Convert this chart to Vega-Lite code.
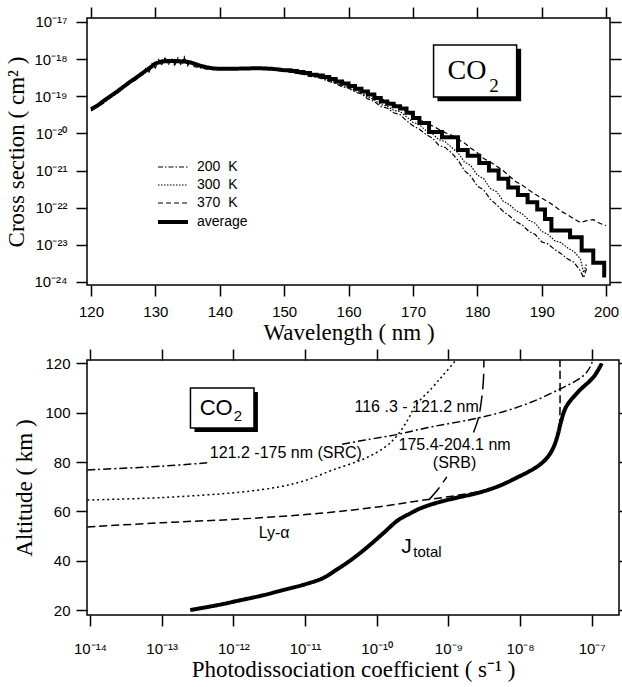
{
  "$schema": "https://vega.github.io/schema/vega-lite/v6.json",
  "background": "white",
  "padding": {"left": 5, "top": 5, "right": 0, "bottom": 0},
  "config": {
    "view": {"stroke": "black", "strokeWidth": 1.5},
    "font": "Liberation Sans",
    "axis": {"domain": false, "grid": false, "tickColor": "black", "tickWidth": 1.5, "tickSize": 11, "labelFont": "Liberation Sans", "labelFontSize": 15, "labelColor": "black", "titleFont": "Liberation Serif", "titleFontSize": 23, "titleFontWeight": "normal", "titleColor": "black"}
  },
  "resolve": {"scale": {"strokeDash": "independent", "strokeWidth": "independent"}, "legend": {"strokeDash": "independent", "strokeWidth": "independent"}},
  "datasets": {
    "temps": [
      {"w":120,"v":4.0e-20,"s":"200 \u00a0K"},{"w":121,"v":5.2e-20,"s":"200 \u00a0K"},{"w":122,"v":6.6e-20,"s":"200 \u00a0K"},{"w":123,"v":9.3e-20,"s":"200 \u00a0K"},{"w":124,"v":1.18e-19,"s":"200 \u00a0K"},{"w":125,"v":1.62e-19,"s":"200 \u00a0K"},{"w":126,"v":2.25e-19,"s":"200 \u00a0K"},{"w":127,"v":2.8e-19,"s":"200 \u00a0K"},{"w":127.5,"v":3.4e-19,"s":"200 \u00a0K"},{"w":128,"v":3.7e-19,"s":"200 \u00a0K"},{"w":128.5,"v":5.2e-19,"s":"200 \u00a0K"},{"w":129,"v":4.4e-19,"s":"200 \u00a0K"},{"w":129.5,"v":7.0e-19,"s":"200 \u00a0K"},{"w":130,"v":5.8e-19,"s":"200 \u00a0K"},{"w":130.5,"v":9.2e-19,"s":"200 \u00a0K"},{"w":131,"v":6.8e-19,"s":"200 \u00a0K"},{"w":131.5,"v":1.05e-18,"s":"200 \u00a0K"},{"w":132,"v":7.0e-19,"s":"200 \u00a0K"},{"w":132.5,"v":9.8e-19,"s":"200 \u00a0K"},{"w":133,"v":6.9e-19,"s":"200 \u00a0K"},{"w":133.5,"v":1.0e-18,"s":"200 \u00a0K"},{"w":134,"v":6.8e-19,"s":"200 \u00a0K"},{"w":134.5,"v":1.05e-18,"s":"200 \u00a0K"},{"w":135,"v":6.6e-19,"s":"200 \u00a0K"},{"w":135.5,"v":8.6e-19,"s":"200 \u00a0K"},{"w":136,"v":6.3e-19,"s":"200 \u00a0K"},{"w":137,"v":5.8e-19,"s":"200 \u00a0K"},{"w":138,"v":5.4e-19,"s":"200 \u00a0K"},{"w":139,"v":5.3e-19,"s":"200 \u00a0K"},{"w":140,"v":5.2e-19,"s":"200 \u00a0K"},{"w":141,"v":5.4e-19,"s":"200 \u00a0K"},{"w":142,"v":5.2e-19,"s":"200 \u00a0K"},{"w":143,"v":5.5e-19,"s":"200 \u00a0K"},{"w":144,"v":5.3e-19,"s":"200 \u00a0K"},{"w":145,"v":5.5e-19,"s":"200 \u00a0K"},{"w":146,"v":5.4e-19,"s":"200 \u00a0K"},{"w":147,"v":5.6e-19,"s":"200 \u00a0K"},{"w":148,"v":5.3e-19,"s":"200 \u00a0K"},{"w":149,"v":5.0e-19,"s":"200 \u00a0K"},{"w":150,"v":4.7e-19,"s":"200 \u00a0K"},{"w":151,"v":4.6e-19,"s":"200 \u00a0K"},{"w":152,"v":4.1e-19,"s":"200 \u00a0K"},{"w":153,"v":3.9e-19,"s":"200 \u00a0K"},{"w":154,"v":3.4e-19,"s":"200 \u00a0K"},{"w":155,"v":3.3e-19,"s":"200 \u00a0K"},{"w":156,"v":2.9e-19,"s":"200 \u00a0K"},{"w":157,"v":2.5e-19,"s":"200 \u00a0K"},{"w":158,"v":2.2e-19,"s":"200 \u00a0K"},{"w":159,"v":1.8e-19,"s":"200 \u00a0K"},{"w":160,"v":1.65e-19,"s":"200 \u00a0K"},{"w":161,"v":1.3e-19,"s":"200 \u00a0K"},{"w":162,"v":1.15e-19,"s":"200 \u00a0K"},{"w":163,"v":8.5e-20,"s":"200 \u00a0K"},{"w":164,"v":7.2e-20,"s":"200 \u00a0K"},{"w":165,"v":5.3e-20,"s":"200 \u00a0K"},{"w":166,"v":4.8e-20,"s":"200 \u00a0K"},{"w":167,"v":3.6e-20,"s":"200 \u00a0K"},{"w":168,"v":3.2e-20,"s":"200 \u00a0K"},{"w":169,"v":2.2e-20,"s":"200 \u00a0K"},{"w":170,"v":1.6e-20,"s":"200 \u00a0K"},{"w":171,"v":1.3e-20,"s":"200 \u00a0K"},{"w":172,"v":9.5e-21,"s":"200 \u00a0K"},{"w":173,"v":7.5e-21,"s":"200 \u00a0K"},{"w":174,"v":4.8e-21,"s":"200 \u00a0K"},{"w":175,"v":4.2e-21,"s":"200 \u00a0K"},{"w":176,"v":3.0e-21,"s":"200 \u00a0K"},{"w":177,"v":1.9e-21,"s":"200 \u00a0K"},{"w":178,"v":1.0e-21,"s":"200 \u00a0K"},{"w":179,"v":7.0e-22,"s":"200 \u00a0K"},{"w":180,"v":3.8e-22,"s":"200 \u00a0K"},{"w":181,"v":3.0e-22,"s":"200 \u00a0K"},{"w":182,"v":1.7e-22,"s":"200 \u00a0K"},{"w":183,"v":1.2e-22,"s":"200 \u00a0K"},{"w":184,"v":8.0e-23,"s":"200 \u00a0K"},{"w":185,"v":6.0e-23,"s":"200 \u00a0K"},{"w":186,"v":4.2e-23,"s":"200 \u00a0K"},{"w":187,"v":3.4e-23,"s":"200 \u00a0K"},{"w":188,"v":2.3e-23,"s":"200 \u00a0K"},{"w":189,"v":1.9e-23,"s":"200 \u00a0K"},{"w":190,"v":1.2e-23,"s":"200 \u00a0K"},{"w":191,"v":1.05e-23,"s":"200 \u00a0K"},{"w":192,"v":7.5e-24,"s":"200 \u00a0K"},{"w":193,"v":5.8e-24,"s":"200 \u00a0K"},{"w":194,"v":4.2e-24,"s":"200 \u00a0K"},{"w":195,"v":3.4e-24,"s":"200 \u00a0K"},{"w":196,"v":2.0e-24,"s":"200 \u00a0K"},{"w":196.5,"v":1.3e-24,"s":"200 \u00a0K"},{"w":197,"v":2.4e-24,"s":"200 \u00a0K"},
      {"w":120,"v":4.3e-20,"s":"300 \u00a0K"},{"w":121,"v":5.5e-20,"s":"300 \u00a0K"},{"w":122,"v":7.2e-20,"s":"300 \u00a0K"},{"w":123,"v":9.6e-20,"s":"300 \u00a0K"},{"w":124,"v":1.26e-19,"s":"300 \u00a0K"},{"w":125,"v":1.7e-19,"s":"300 \u00a0K"},{"w":126,"v":2.3e-19,"s":"300 \u00a0K"},{"w":127,"v":3.0e-19,"s":"300 \u00a0K"},{"w":127.5,"v":3.5e-19,"s":"300 \u00a0K"},{"w":128,"v":4.0e-19,"s":"300 \u00a0K"},{"w":128.5,"v":5.6e-19,"s":"300 \u00a0K"},{"w":129,"v":4.7e-19,"s":"300 \u00a0K"},{"w":129.5,"v":7.6e-19,"s":"300 \u00a0K"},{"w":130,"v":6.4e-19,"s":"300 \u00a0K"},{"w":130.5,"v":9.8e-19,"s":"300 \u00a0K"},{"w":131,"v":7.3e-19,"s":"300 \u00a0K"},{"w":131.5,"v":1.1e-18,"s":"300 \u00a0K"},{"w":132,"v":7.6e-19,"s":"300 \u00a0K"},{"w":132.5,"v":1.05e-18,"s":"300 \u00a0K"},{"w":133,"v":7.4e-19,"s":"300 \u00a0K"},{"w":133.5,"v":1.08e-18,"s":"300 \u00a0K"},{"w":134,"v":7.4e-19,"s":"300 \u00a0K"},{"w":134.5,"v":1.15e-18,"s":"300 \u00a0K"},{"w":135,"v":7.1e-19,"s":"300 \u00a0K"},{"w":135.5,"v":9.2e-19,"s":"300 \u00a0K"},{"w":136,"v":6.7e-19,"s":"300 \u00a0K"},{"w":137,"v":6.1e-19,"s":"300 \u00a0K"},{"w":138,"v":5.7e-19,"s":"300 \u00a0K"},{"w":139,"v":5.5e-19,"s":"300 \u00a0K"},{"w":140,"v":5.4e-19,"s":"300 \u00a0K"},{"w":141,"v":5.5e-19,"s":"300 \u00a0K"},{"w":142,"v":5.4e-19,"s":"300 \u00a0K"},{"w":143,"v":5.6e-19,"s":"300 \u00a0K"},{"w":144,"v":5.5e-19,"s":"300 \u00a0K"},{"w":145,"v":5.7e-19,"s":"300 \u00a0K"},{"w":146,"v":5.6e-19,"s":"300 \u00a0K"},{"w":147,"v":5.8e-19,"s":"300 \u00a0K"},{"w":148,"v":5.5e-19,"s":"300 \u00a0K"},{"w":149,"v":5.2e-19,"s":"300 \u00a0K"},{"w":150,"v":4.9e-19,"s":"300 \u00a0K"},{"w":151,"v":4.7e-19,"s":"300 \u00a0K"},{"w":152,"v":4.3e-19,"s":"300 \u00a0K"},{"w":153,"v":4.1e-19,"s":"300 \u00a0K"},{"w":154,"v":3.6e-19,"s":"300 \u00a0K"},{"w":155,"v":3.5e-19,"s":"300 \u00a0K"},{"w":156,"v":3.1e-19,"s":"300 \u00a0K"},{"w":157,"v":2.6e-19,"s":"300 \u00a0K"},{"w":158,"v":2.4e-19,"s":"300 \u00a0K"},{"w":159,"v":1.95e-19,"s":"300 \u00a0K"},{"w":160,"v":1.8e-19,"s":"300 \u00a0K"},{"w":161,"v":1.42e-19,"s":"300 \u00a0K"},{"w":162,"v":1.25e-19,"s":"300 \u00a0K"},{"w":163,"v":9.6e-20,"s":"300 \u00a0K"},{"w":164,"v":8.0e-20,"s":"300 \u00a0K"},{"w":165,"v":6.0e-20,"s":"300 \u00a0K"},{"w":166,"v":5.4e-20,"s":"300 \u00a0K"},{"w":167,"v":4.2e-20,"s":"300 \u00a0K"},{"w":168,"v":3.9e-20,"s":"300 \u00a0K"},{"w":169,"v":2.8e-20,"s":"300 \u00a0K"},{"w":170,"v":2.0e-20,"s":"300 \u00a0K"},{"w":171,"v":1.7e-20,"s":"300 \u00a0K"},{"w":172,"v":1.2e-20,"s":"300 \u00a0K"},{"w":173,"v":1.0e-20,"s":"300 \u00a0K"},{"w":174,"v":6.8e-21,"s":"300 \u00a0K"},{"w":175,"v":6.0e-21,"s":"300 \u00a0K"},{"w":176,"v":4.2e-21,"s":"300 \u00a0K"},{"w":177,"v":3.0e-21,"s":"300 \u00a0K"},{"w":178,"v":1.7e-21,"s":"300 \u00a0K"},{"w":179,"v":1.35e-21,"s":"300 \u00a0K"},{"w":180,"v":7.5e-22,"s":"300 \u00a0K"},{"w":181,"v":6.0e-22,"s":"300 \u00a0K"},{"w":182,"v":3.3e-22,"s":"300 \u00a0K"},{"w":183,"v":2.7e-22,"s":"300 \u00a0K"},{"w":184,"v":1.5e-22,"s":"300 \u00a0K"},{"w":185,"v":1.2e-22,"s":"300 \u00a0K"},{"w":186,"v":8.3e-23,"s":"300 \u00a0K"},{"w":187,"v":6.8e-23,"s":"300 \u00a0K"},{"w":188,"v":4.6e-23,"s":"300 \u00a0K"},{"w":189,"v":3.8e-23,"s":"300 \u00a0K"},{"w":190,"v":2.3e-23,"s":"300 \u00a0K"},{"w":191,"v":1.9e-23,"s":"300 \u00a0K"},{"w":192,"v":1.3e-23,"s":"300 \u00a0K"},{"w":193,"v":1.15e-23,"s":"300 \u00a0K"},{"w":194,"v":8.3e-24,"s":"300 \u00a0K"},{"w":195,"v":6.6e-24,"s":"300 \u00a0K"},{"w":196,"v":4.2e-24,"s":"300 \u00a0K"},{"w":196.5,"v":1.8e-24,"s":"300 \u00a0K"},{"w":197,"v":3.2e-24,"s":"300 \u00a0K"},
      {"w":120,"v":4.7e-20,"s":"370 \u00a0K"},{"w":121,"v":5.8e-20,"s":"370 \u00a0K"},{"w":122,"v":7.8e-20,"s":"370 \u00a0K"},{"w":123,"v":1.02e-19,"s":"370 \u00a0K"},{"w":124,"v":1.35e-19,"s":"370 \u00a0K"},{"w":125,"v":1.82e-19,"s":"370 \u00a0K"},{"w":126,"v":2.45e-19,"s":"370 \u00a0K"},{"w":127,"v":3.2e-19,"s":"370 \u00a0K"},{"w":127.5,"v":3.7e-19,"s":"370 \u00a0K"},{"w":128,"v":4.3e-19,"s":"370 \u00a0K"},{"w":128.5,"v":5.4e-19,"s":"370 \u00a0K"},{"w":129,"v":5.2e-19,"s":"370 \u00a0K"},{"w":129.5,"v":7.0e-19,"s":"370 \u00a0K"},{"w":130,"v":7.0e-19,"s":"370 \u00a0K"},{"w":130.5,"v":8.6e-19,"s":"370 \u00a0K"},{"w":131,"v":8.0e-19,"s":"370 \u00a0K"},{"w":131.5,"v":9.4e-19,"s":"370 \u00a0K"},{"w":132,"v":8.2e-19,"s":"370 \u00a0K"},{"w":132.5,"v":9.2e-19,"s":"370 \u00a0K"},{"w":133,"v":8.1e-19,"s":"370 \u00a0K"},{"w":133.5,"v":9.4e-19,"s":"370 \u00a0K"},{"w":134,"v":8.0e-19,"s":"370 \u00a0K"},{"w":134.5,"v":9.8e-19,"s":"370 \u00a0K"},{"w":135,"v":7.8e-19,"s":"370 \u00a0K"},{"w":135.5,"v":8.6e-19,"s":"370 \u00a0K"},{"w":136,"v":7.2e-19,"s":"370 \u00a0K"},{"w":137,"v":6.5e-19,"s":"370 \u00a0K"},{"w":138,"v":6.0e-19,"s":"370 \u00a0K"},{"w":139,"v":5.7e-19,"s":"370 \u00a0K"},{"w":140,"v":5.6e-19,"s":"370 \u00a0K"},{"w":141,"v":5.7e-19,"s":"370 \u00a0K"},{"w":142,"v":5.6e-19,"s":"370 \u00a0K"},{"w":143,"v":5.8e-19,"s":"370 \u00a0K"},{"w":144,"v":5.7e-19,"s":"370 \u00a0K"},{"w":145,"v":5.9e-19,"s":"370 \u00a0K"},{"w":146,"v":5.8e-19,"s":"370 \u00a0K"},{"w":147,"v":6.0e-19,"s":"370 \u00a0K"},{"w":148,"v":5.7e-19,"s":"370 \u00a0K"},{"w":149,"v":5.5e-19,"s":"370 \u00a0K"},{"w":150,"v":5.2e-19,"s":"370 \u00a0K"},{"w":151,"v":5.1e-19,"s":"370 \u00a0K"},{"w":152,"v":4.7e-19,"s":"370 \u00a0K"},{"w":153,"v":4.5e-19,"s":"370 \u00a0K"},{"w":154,"v":4.0e-19,"s":"370 \u00a0K"},{"w":155,"v":3.9e-19,"s":"370 \u00a0K"},{"w":156,"v":3.6e-19,"s":"370 \u00a0K"},{"w":157,"v":3.1e-19,"s":"370 \u00a0K"},{"w":158,"v":2.8e-19,"s":"370 \u00a0K"},{"w":159,"v":2.4e-19,"s":"370 \u00a0K"},{"w":160,"v":2.1e-19,"s":"370 \u00a0K"},{"w":161,"v":1.8e-19,"s":"370 \u00a0K"},{"w":162,"v":1.55e-19,"s":"370 \u00a0K"},{"w":163,"v":1.3e-19,"s":"370 \u00a0K"},{"w":164,"v":1.05e-19,"s":"370 \u00a0K"},{"w":165,"v":8.7e-20,"s":"370 \u00a0K"},{"w":166,"v":7.4e-20,"s":"370 \u00a0K"},{"w":167,"v":6.2e-20,"s":"370 \u00a0K"},{"w":168,"v":5.0e-20,"s":"370 \u00a0K"},{"w":169,"v":4.0e-20,"s":"370 \u00a0K"},{"w":170,"v":2.9e-20,"s":"370 \u00a0K"},{"w":171,"v":2.4e-20,"s":"370 \u00a0K"},{"w":172,"v":1.9e-20,"s":"370 \u00a0K"},{"w":173,"v":1.6e-20,"s":"370 \u00a0K"},{"w":174,"v":1.3e-20,"s":"370 \u00a0K"},{"w":175,"v":1.05e-20,"s":"370 \u00a0K"},{"w":176,"v":8.9e-21,"s":"370 \u00a0K"},{"w":177,"v":7.0e-21,"s":"370 \u00a0K"},{"w":178,"v":5.5e-21,"s":"370 \u00a0K"},{"w":179,"v":4.0e-21,"s":"370 \u00a0K"},{"w":180,"v":3.0e-21,"s":"370 \u00a0K"},{"w":181,"v":2.1e-21,"s":"370 \u00a0K"},{"w":182,"v":1.7e-21,"s":"370 \u00a0K"},{"w":183,"v":1.3e-21,"s":"370 \u00a0K"},{"w":184,"v":1.0e-21,"s":"370 \u00a0K"},{"w":185,"v":7.0e-22,"s":"370 \u00a0K"},{"w":186,"v":5.0e-22,"s":"370 \u00a0K"},{"w":187,"v":4.0e-22,"s":"370 \u00a0K"},{"w":188,"v":3.0e-22,"s":"370 \u00a0K"},{"w":189,"v":2.3e-22,"s":"370 \u00a0K"},{"w":190,"v":1.8e-22,"s":"370 \u00a0K"},{"w":191,"v":1.45e-22,"s":"370 \u00a0K"},{"w":192,"v":1.1e-22,"s":"370 \u00a0K"},{"w":193,"v":8.0e-23,"s":"370 \u00a0K"},{"w":194,"v":6.5e-23,"s":"370 \u00a0K"},{"w":195,"v":5.0e-23,"s":"370 \u00a0K"},{"w":196,"v":4.0e-23,"s":"370 \u00a0K"},{"w":197,"v":4.5e-23,"s":"370 \u00a0K"},{"w":198,"v":4.8e-23,"s":"370 \u00a0K"},{"w":199,"v":3.8e-23,"s":"370 \u00a0K"},{"w":200,"v":3.3e-23,"s":"370 \u00a0K"},
      {"w":120,"v":4.5e-20,"s":"average"},{"w":121,"v":5.6e-20,"s":"average"},{"w":122,"v":7.6e-20,"s":"average"},{"w":123,"v":1.0e-19,"s":"average"},{"w":124,"v":1.32e-19,"s":"average"},{"w":125,"v":1.78e-19,"s":"average"},{"w":126,"v":2.4e-19,"s":"average"},{"w":127,"v":3.16e-19,"s":"average"},{"w":128,"v":4.2e-19,"s":"average"},{"w":129,"v":5.6e-19,"s":"average"},{"w":130,"v":7.6e-19,"s":"average"},{"w":131,"v":8.7e-19,"s":"average"},{"w":132,"v":8.9e-19,"s":"average"},{"w":133,"v":8.9e-19,"s":"average"},{"w":134,"v":8.7e-19,"s":"average"},{"w":135,"v":8.5e-19,"s":"average"},{"w":136,"v":7.6e-19,"s":"average"},{"w":137,"v":6.6e-19,"s":"average"},{"w":138,"v":6.0e-19,"s":"average"},{"w":139,"v":5.6e-19,"s":"average"},{"w":140,"v":5.5e-19,"s":"average"},{"w":142,"v":5.5e-19,"s":"average"},{"w":144,"v":5.6e-19,"s":"average"},{"w":146,"v":5.7e-19,"s":"average"},{"w":148,"v":5.5e-19,"s":"average"},{"w":149,"v":5.3e-19,"s":"average"},{"w":150,"v":5.0e-19,"s":"average"}
    ],
    "avgstep": [
      {"w":150,"v":5.0e-19},{"w":151,"v":4.8e-19},{"w":152,"v":4.5e-19},{"w":153,"v":4.2e-19},{"w":154,"v":3.8e-19},{"w":155,"v":3.6e-19},{"w":156,"v":3.3e-19},{"w":157,"v":2.9e-19},{"w":158,"v":2.5e-19},{"w":159,"v":2.2e-19},{"w":160,"v":1.9e-19},{"w":161,"v":1.6e-19},{"w":162,"v":1.35e-19},{"w":163,"v":1.12e-19},{"w":164,"v":9.0e-20},{"w":165,"v":7.2e-20},{"w":166,"v":6.3e-20},{"w":167,"v":5.4e-20},{"w":168,"v":4.7e-20},{"w":169,"v":3.6e-20},{"w":170,"v":2.6e-20},{"w":171,"v":1.9e-20},{"w":172.5,"v":1.1e-20},{"w":174.5,"v":7.9e-21},{"w":177,"v":3.6e-21},{"w":178.5,"v":2.5e-21},{"w":180.3,"v":1.6e-21},{"w":181.8,"v":1.0e-21},{"w":183.3,"v":6.0e-22},{"w":184.8,"v":3.5e-22},{"w":186.3,"v":2.2e-22},{"w":187.8,"v":1.4e-22},{"w":189.3,"v":8.9e-23},{"w":190.5,"v":5.0e-23},{"w":191.5,"v":2.45e-23},{"w":194.4,"v":1.6e-23},{"w":196.2,"v":7.1e-24},{"w":198,"v":3.3e-24},{"w":199.7,"v":1.5e-24},{"w":200,"v":1.5e-24}
    ],
    "bot": [
      {"s":"J","g":"a","x":2.5e-13,"a":20},{"s":"J","g":"a","x":6e-13,"a":22},{"s":"J","g":"a","x":1.26e-12,"a":24},{"s":"J","g":"a","x":2.6e-12,"a":26},{"s":"J","g":"a","x":4.5e-12,"a":27.8},{"s":"J","g":"a","x":1.1e-11,"a":30.8},{"s":"J","g":"a","x":1.8e-11,"a":33},{"s":"J","g":"a","x":2.7e-11,"a":36.2},{"s":"J","g":"a","x":4.0e-11,"a":39.5},{"s":"J","g":"a","x":5.8e-11,"a":43},{"s":"J","g":"a","x":8.5e-11,"a":47},{"s":"J","g":"a","x":1.23e-10,"a":51.1},{"s":"J","g":"a","x":2.0e-10,"a":56.5},{"s":"J","g":"a","x":3.0e-10,"a":59.3},{"s":"J","g":"a","x":3.9e-10,"a":61},{"s":"J","g":"a","x":5.5e-10,"a":62.6},{"s":"J","g":"a","x":8.0e-10,"a":64},{"s":"J","g":"a","x":1.3e-9,"a":65.5},{"s":"J","g":"a","x":2.6e-9,"a":67.5},{"s":"J","g":"a","x":5.0e-9,"a":70.2},{"s":"J","g":"a","x":9.5e-9,"a":74},{"s":"J","g":"a","x":1.5e-8,"a":77},{"s":"J","g":"a","x":2.0e-8,"a":79.5},{"s":"J","g":"a","x":2.5e-8,"a":82.5},{"s":"J","g":"a","x":2.95e-8,"a":86.2},{"s":"J","g":"a","x":3.4e-8,"a":91.6},{"s":"J","g":"a","x":3.7e-8,"a":96},{"s":"J","g":"a","x":4.4e-8,"a":102.4},{"s":"J","g":"a","x":6.5e-8,"a":108.5},{"s":"J","g":"a","x":1.07e-7,"a":114.6},{"s":"J","g":"a","x":1.38e-7,"a":120},
      {"s":"Lya","g":"a","x":9.2e-15,"a":53.7},{"s":"Lya","g":"a","x":1e-13,"a":55.4},{"s":"Lya","g":"a","x":1.26e-12,"a":56.9},{"s":"Lya","g":"a","x":1.6e-11,"a":59.2},{"s":"Lya","g":"a","x":1.1e-10,"a":61.9},{"s":"Lya","g":"a","x":3.9e-10,"a":64.3},{"s":"Lya","g":"a","x":1.4e-9,"a":66.6},{"s":"Lya","g":"a","x":5.0e-9,"a":70},{"s":"Lya","g":"a","x":9.5e-9,"a":74},{"s":"Lya","g":"a","x":2.0e-8,"a":79.5},{"s":"Lya","g":"a","x":2.95e-8,"a":86.2},{"s":"Lya","g":"a","x":3.5e-8,"a":93},{"s":"Lya","g":"a","x":3.6e-8,"a":100},{"s":"Lya","g":"a","x":3.6e-8,"a":121.3},
      {"s":"dot","g":"a","x":9.2e-15,"a":64.6},{"s":"dot","g":"a","x":1e-13,"a":65.6},{"s":"dot","g":"a","x":1.26e-12,"a":67.8},{"s":"dot","g":"a","x":4.5e-12,"a":70},{"s":"dot","g":"a","x":1.0e-11,"a":72.5},{"s":"dot","g":"a","x":2.4e-11,"a":76.7},{"s":"dot","g":"a","x":6.9e-11,"a":81.5},{"s":"dot","g":"a","x":1.3e-10,"a":86},{"s":"dot","g":"a","x":1.9e-10,"a":90.5},{"s":"dot","g":"a","x":2.7e-10,"a":97},{"s":"dot","g":"a","x":3.5e-10,"a":103},{"s":"dot","g":"a","x":5.9e-10,"a":110},{"s":"dot","g":"a","x":8.3e-10,"a":115},{"s":"dot","g":"a","x":1.17e-9,"a":120},{"s":"dot","g":"a","x":1.25e-9,"a":121.3},
      {"s":"src","g":"a","x":9.2e-15,"a":76.8},{"s":"src","g":"a","x":1e-13,"a":78.3},{"s":"src","g":"a","x":4.5e-13,"a":79.7},
      {"s":"src","g":"b","x":3.3e-11,"a":87.2},{"s":"src","g":"b","x":6.9e-11,"a":88.9},{"s":"src","g":"b","x":1.82e-10,"a":91},{"s":"src","g":"b","x":5.9e-10,"a":94.3},{"s":"src","g":"b","x":2.14e-9,"a":97.3},{"s":"src","g":"b","x":6.0e-9,"a":100.5},{"s":"src","g":"b","x":1.48e-8,"a":104.4},{"s":"src","g":"b","x":3.4e-8,"a":109.2},{"s":"src","g":"b","x":6.5e-8,"a":113.5},{"s":"src","g":"b","x":8.3e-8,"a":116},{"s":"src","g":"b","x":9.5e-8,"a":118.5},{"s":"src","g":"b","x":1.0e-7,"a":120},{"s":"src","g":"b","x":1.02e-7,"a":121.3},
      {"s":"srb","g":"a","x":5.4e-10,"a":64.8},{"s":"srb","g":"a","x":7.4e-10,"a":69.5},{"s":"srb","g":"a","x":9.5e-10,"a":74},
      {"s":"srb","g":"b","x":2.24e-9,"a":92},{"s":"srb","g":"b","x":2.63e-9,"a":98},{"s":"srb","g":"b","x":2.95e-9,"a":107},{"s":"srb","g":"b","x":3.09e-9,"a":114},{"s":"srb","g":"b","x":3.13e-9,"a":121.3}
    ]
  },
  "concat": [
    {
      "width": 523,
      "height": 267,
      "layer": [
        {
          "data": {"name": "temps"},
          "mark": {"type": "line", "color": "black", "strokeCap": "butt"},
          "encoding": {
            "x": {"field": "w", "type": "quantitative", "scale": {"domain": [119.38, 200.6], "nice": false, "zero": false},
                  "axis": {"orient": "bottom", "values": [120,130,140,150,160,170,180,190,200], "format": "d", "labelPadding": 8, "title": "Wavelength ( nm )", "titlePadding": 2}},
            "y": {"field": "v", "type": "quantitative", "scale": {"type": "log", "domain": [8.3e-25, 1.28e-17], "nice": false},
                  "axis": {"orient": "left", "values": [1e-24,1e-23,1e-22,1e-21,1e-20,1e-19,1e-18,1e-17], "labelPadding": 9, "title": "Cross section ( cm\u00b2 )", "titlePadding": 5,
                           "labelExpr": "'10' + replace(replace(replace(replace(replace(replace(replace(replace(replace(replace(replace('' + round(log(datum.value)/LN10), '-', '\u207b'), regexp('0','g'), '\u2070'), regexp('1','g'), '\u00b9'), regexp('2','g'), '\u00b2'), regexp('3','g'), '\u00b3'), regexp('4','g'), '\u2074'), regexp('5','g'), '\u2075'), regexp('6','g'), '\u2076'), regexp('7','g'), '\u2077'), regexp('8','g'), '\u2078'), regexp('9','g'), '\u2079')"}},
            "strokeDash": {"field": "s", "type": "nominal",
                  "scale": {"domain": ["200 \u00a0K","300 \u00a0K","370 \u00a0K","average"], "range": [[5,2,1.5,2],[1.5,1.5],[5,3],[1,0]]},
                  "legend": {"orient": "none", "legendX": 79, "legendY": 142, "title": null, "symbolType": "M-3,0H3", "symbolSize": 100, "symbolStrokeColor": "black", "symbolFillColor": "transparent", "labelFont": "Liberation Sans", "labelFontSize": 14, "labelColor": "black", "labelOffset": 17, "rowPadding": 4, "padding": 0}},
            "strokeWidth": {"field": "s", "type": "ordinal",
                  "scale": {"type": "ordinal", "domain": ["200 \u00a0K","300 \u00a0K","370 \u00a0K","average"], "range": [1.2,1.2,1.2,4]},
                  "legend": {"orient": "none", "legendX": 79, "legendY": 142, "title": null, "symbolType": "M-3,0H3", "symbolSize": 100, "symbolStrokeColor": "black", "symbolFillColor": "transparent", "labelFont": "Liberation Sans", "labelFontSize": 14, "labelColor": "black", "labelOffset": 17, "rowPadding": 4, "padding": 0}}
          }
        },
        {
          "data": {"name": "avgstep"},
          "mark": {"type": "line", "color": "black", "strokeWidth": 4, "interpolate": "step-after"},
          "encoding": {
            "x": {"field": "w", "type": "quantitative", "axis": {"orient": "top", "labels": false, "title": null, "values": [120,130,140,150,160,170,180,190,200]}},
            "y": {"field": "v", "type": "quantitative", "axis": {"orient": "right", "labels": false, "title": null, "values": [1e-24,1e-23,1e-22,1e-21,1e-20,1e-19,1e-18,1e-17]}}
          }
        },
        {
          "data": {"values": [{"x1": 173.8, "x2": 186.8, "y1": 1.9e-18, "y2": 7.4e-20}]},
          "mark": {"type": "rect", "color": "black"},
          "encoding": {
            "x": {"field": "x1", "type": "quantitative", "axis": null}, "x2": {"field": "x2"},
            "y": {"field": "y1", "type": "quantitative", "axis": null}, "y2": {"field": "y2"}
          }
        },
        {
          "data": {"values": [{"x1": 173.2, "x2": 186.1, "y1": 2.4e-18, "y2": 9.5e-20}]},
          "mark": {"type": "rect", "fill": "white", "stroke": "black", "strokeWidth": 1.5},
          "encoding": {
            "x": {"field": "x1", "type": "quantitative", "axis": null}, "x2": {"field": "x2"},
            "y": {"field": "y1", "type": "quantitative", "axis": null}, "y2": {"field": "y2"}
          }
        },
        {
          "data": {"values": [{"x": 178.4, "y": 4.8e-19, "t": "CO"}]},
          "mark": {"type": "text", "font": "Liberation Serif", "fontSize": 28, "color": "black", "align": "center", "baseline": "middle"},
          "encoding": {"x": {"field": "x", "type": "quantitative", "axis": null}, "y": {"field": "y", "type": "quantitative", "axis": null}, "text": {"field": "t"}}
        },
        {
          "data": {"values": [{"x": 182.6, "y": 1.9e-19, "t": "2"}]},
          "mark": {"type": "text", "font": "Liberation Serif", "fontSize": 19, "color": "black", "align": "center", "baseline": "middle"},
          "encoding": {"x": {"field": "x", "type": "quantitative", "axis": null}, "y": {"field": "y", "type": "quantitative", "axis": null}, "text": {"field": "t"}}
        }
      ]
    },
    {
      "width": 532,
      "height": 255,
      "layer": [
        {
          "data": {"name": "bot"},
          "mark": {"type": "line", "color": "black", "strokeCap": "butt", "interpolate": "catmull-rom"},
          "encoding": {
            "x": {"field": "x", "type": "quantitative", "scale": {"type": "log", "domain": [9.08e-15, 2.4e-7], "nice": false},
                  "axis": {"orient": "bottom", "values": [1e-14,1e-13,1e-12,1e-11,1e-10,1e-9,1e-8,1e-7], "labelPadding": 15, "title": "Photodissociation coefficient ( s\u207b\u00b9 )", "titlePadding": 2,
                           "labelExpr": "'10' + replace(replace(replace(replace(replace(replace(replace(replace(replace(replace(replace('' + round(log(datum.value)/LN10), '-', '\u207b'), regexp('0','g'), '\u2070'), regexp('1','g'), '\u00b9'), regexp('2','g'), '\u00b2'), regexp('3','g'), '\u00b3'), regexp('4','g'), '\u2074'), regexp('5','g'), '\u2075'), regexp('6','g'), '\u2076'), regexp('7','g'), '\u2077'), regexp('8','g'), '\u2078'), regexp('9','g'), '\u2079')"}},
            "y": {"field": "a", "type": "quantitative", "scale": {"domain": [18.0, 121.34], "nice": false, "zero": false},
                  "axis": {"orient": "left", "values": [20,40,60,80,100,120], "labelPadding": 6, "title": "Altitude ( km )", "titlePadding": 8}},
            "detail": {"field": "g"},
            "order": {"value": null},
            "strokeDash": {"field": "s", "type": "nominal", "legend": null,
                  "scale": {"domain": ["J","Lya","dot","src","srb"], "range": [[1,0],[8,4],[2,3],[8,3,2,3],[16,6]]}},
            "strokeWidth": {"field": "s", "type": "ordinal", "legend": null,
                  "scale": {"type": "ordinal", "domain": ["J","Lya","dot","src","srb"], "range": [4,1.5,1.5,1.5,1.5]}}
          }
        },
        {
          "data": {"values": [{"x1": 2.87e-13, "x2": 2.2e-12, "y1": 108.4, "y2": 92.2}]},
          "mark": {"type": "rect", "color": "black"},
          "encoding": {
            "x": {"field": "x1", "type": "quantitative", "axis": null}, "x2": {"field": "x2"},
            "y": {"field": "y1", "type": "quantitative", "axis": null}, "y2": {"field": "y2"}
          }
        },
        {
          "data": {"values": [{"x1": 2.52e-13, "x2": 1.94e-12, "y1": 110.0, "y2": 93.8}]},
          "mark": {"type": "rect", "fill": "white", "stroke": "black", "strokeWidth": 1.5},
          "encoding": {
            "x": {"field": "x1", "type": "quantitative", "axis": null}, "x2": {"field": "x2"},
            "y": {"field": "y1", "type": "quantitative", "axis": null}, "y2": {"field": "y2"}
          }
        },
        {
          "data": {"values": [{"x": 5.75e-13, "y": 101.9, "t": "CO"}]},
          "mark": {"type": "text", "font": "Liberation Sans", "fontSize": 22, "color": "black", "align": "center", "baseline": "middle"},
          "encoding": {"x": {"field": "x", "type": "quantitative", "axis": null}, "y": {"field": "y", "type": "quantitative", "axis": null}, "text": {"field": "t"}}
        },
        {
          "data": {"values": [{"x": 1.16e-12, "y": 98.7, "t": "2"}]},
          "mark": {"type": "text", "font": "Liberation Sans", "fontSize": 15, "color": "black", "align": "center", "baseline": "middle"},
          "encoding": {"x": {"field": "x", "type": "quantitative", "axis": null}, "y": {"field": "y", "type": "quantitative", "axis": null}, "text": {"field": "t"}}
        },
        {
          "data": {"values": [
            {"x": 3.6e-10, "y": 102.4, "t": "116 .3 - 121.2 nm"},
            {"x": 5.4e-12, "y": 83.5, "t": "121.2 -175 nm  (SRC)"},
            {"x": 1.22e-9, "y": 86.9, "t": "175.4-204.1 nm"},
            {"x": 1.22e-9, "y": 79.5, "t": "(SRB)"},
            {"x": 3.7e-12, "y": 51.1, "t": "Ly-\u03b1"}
          ]},
          "mark": {"type": "text", "font": "Liberation Sans", "fontSize": 16, "color": "black", "align": "center", "baseline": "middle"},
          "encoding": {
            "x": {"field": "x", "type": "quantitative", "axis": {"orient": "top", "labels": false, "title": null, "values": [1e-14,1e-13,1e-12,1e-11,1e-10,1e-9,1e-8,1e-7]}},
            "y": {"field": "y", "type": "quantitative", "axis": {"orient": "right", "labels": false, "title": null, "values": [20,40,60,80,100,120]}},
            "text": {"field": "t"}
          }
        },
        {
          "data": {"values": [{"x": 2.6e-10, "y": 45.7, "t": "J"}]},
          "mark": {"type": "text", "font": "Liberation Sans", "fontSize": 21, "color": "black", "align": "center", "baseline": "middle"},
          "encoding": {"x": {"field": "x", "type": "quantitative", "axis": null}, "y": {"field": "y", "type": "quantitative", "axis": null}, "text": {"field": "t"}}
        },
        {
          "data": {"values": [{"x": 5.1e-10, "y": 43.4, "t": "total"}]},
          "mark": {"type": "text", "font": "Liberation Sans", "fontSize": 15, "color": "black", "align": "center", "baseline": "middle"},
          "encoding": {"x": {"field": "x", "type": "quantitative", "axis": null}, "y": {"field": "y", "type": "quantitative", "axis": null}, "text": {"field": "t"}}
        }
      ]
    }
  ],
  "columns": 1,
  "spacing": 2,
  "align": "none"
}
